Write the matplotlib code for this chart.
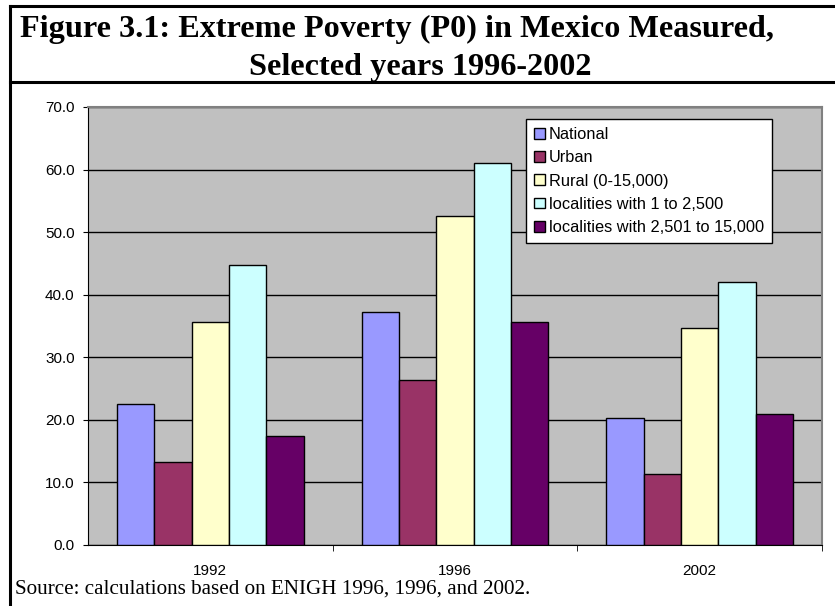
import numpy as np
import matplotlib
matplotlib.use('Agg')
import matplotlib.pyplot as plt
from matplotlib.lines import Line2D

# data
years = ['1992', '1996', '2002']
series = ['National', 'Urban', 'Rural (0-15,000)',
          'localities with 1 to 2,500', 'localities with 2,501 to 15,000']
national = [22.5, 37.2, 20.3]
urban = [13.3, 26.4, 11.4]
rural = [35.7, 52.6, 34.7]
loc_small = [44.7, 61.0, 42.1]
loc_large = [17.5, 35.6, 21.0]
colors = ['#9999FF', '#993366', '#FFFFCC', '#CCFFFF', '#660066']
yticks = [0, 10, 20, 30, 40, 50, 60, 70]

W, H = 835, 606
fig = plt.figure(figsize=(W / 100, H / 100), dpi=100)

def fx(px):
    return px / W

def fy(py):
    return 1 - py / H

# frame around title
fig.add_artist(Line2D([fx(10), 1], [fy(6), fy(6)], color='black', lw=2.2))
fig.add_artist(Line2D([fx(10), 1], [fy(82), fy(82)], color='black', lw=2.2))
fig.add_artist(Line2D([fx(10), fx(10)], [fy(6), 0], color='black', lw=2.2))

fig.text(fx(397), fy(29), 'Figure 3.1: Extreme Poverty (P0) in Mexico Measured,',
         ha='center', va='center', family='Liberation Serif', weight='bold', fontsize=23.2)
fig.text(fx(420), fy(67), 'Selected years 1996-2002',
         ha='center', va='center', family='Liberation Serif', weight='bold', fontsize=23.2)
fig.text(fx(15), fy(589), 'Source: calculations based on ENIGH 1996, 1996, and 2002.',
         ha='left', va='center', family='Liberation Serif', fontsize=15.2)

ax = fig.add_axes([fx(88), fy(545), fx(822) - fx(88), fy(107) - fy(545)])
ax.set_facecolor('#C0C0C0')

values = [national, urban, rural, loc_small, loc_large]
x = np.arange(len(years))
bw = 1 / (5 + 1.55)
for i, (vals, name, c) in enumerate(zip(values, series, colors)):
    ax.bar(x + (i - 2) * bw, vals, bw, color=c, edgecolor='black', linewidth=1.0,
           label=name, zorder=3)

ax.set_xlim(-0.5, 2.5)
ax.set_ylim(0, 70)
ax.set_yticks(yticks)
ax.set_yticklabels(['%.1f' % v for v in yticks], family='Liberation Sans', fontsize=11)
ax.yaxis.grid(True, color='black', lw=1.0, zorder=1)
ax.set_xticks(x)
ax.set_xticklabels(years, family='Liberation Sans', fontsize=11)
ax.set_xticks([0.5, 1.5, 2.5], minor=True)
ax.tick_params(axis='x', which='major', length=0, pad=14)
ax.tick_params(axis='x', which='minor', length=4, direction='out')
ax.tick_params(axis='y', length=3.6, direction='out', pad=6)
ax.spines['left'].set_color('black')
ax.spines['bottom'].set_color('black')
ax.spines['top'].set_color('#808080')
ax.spines['right'].set_color('#808080')
ax.spines['top'].set_linewidth(1.5)
ax.spines['right'].set_linewidth(1.5)

leg = ax.legend(loc='upper left', bbox_to_anchor=((526 - 88) / (822 - 88), (545 - 119) / (545 - 107)),
                prop={'family': 'Liberation Sans', 'size': 11.8}, fancybox=False,
                framealpha=1, edgecolor='black', handlelength=0.65, handleheight=0.65,
                handletextpad=0.25, labelspacing=0.5, borderpad=0.5, borderaxespad=0)
leg.get_frame().set_linewidth(1.0)

fig.savefig('out.png', dpi=100)
